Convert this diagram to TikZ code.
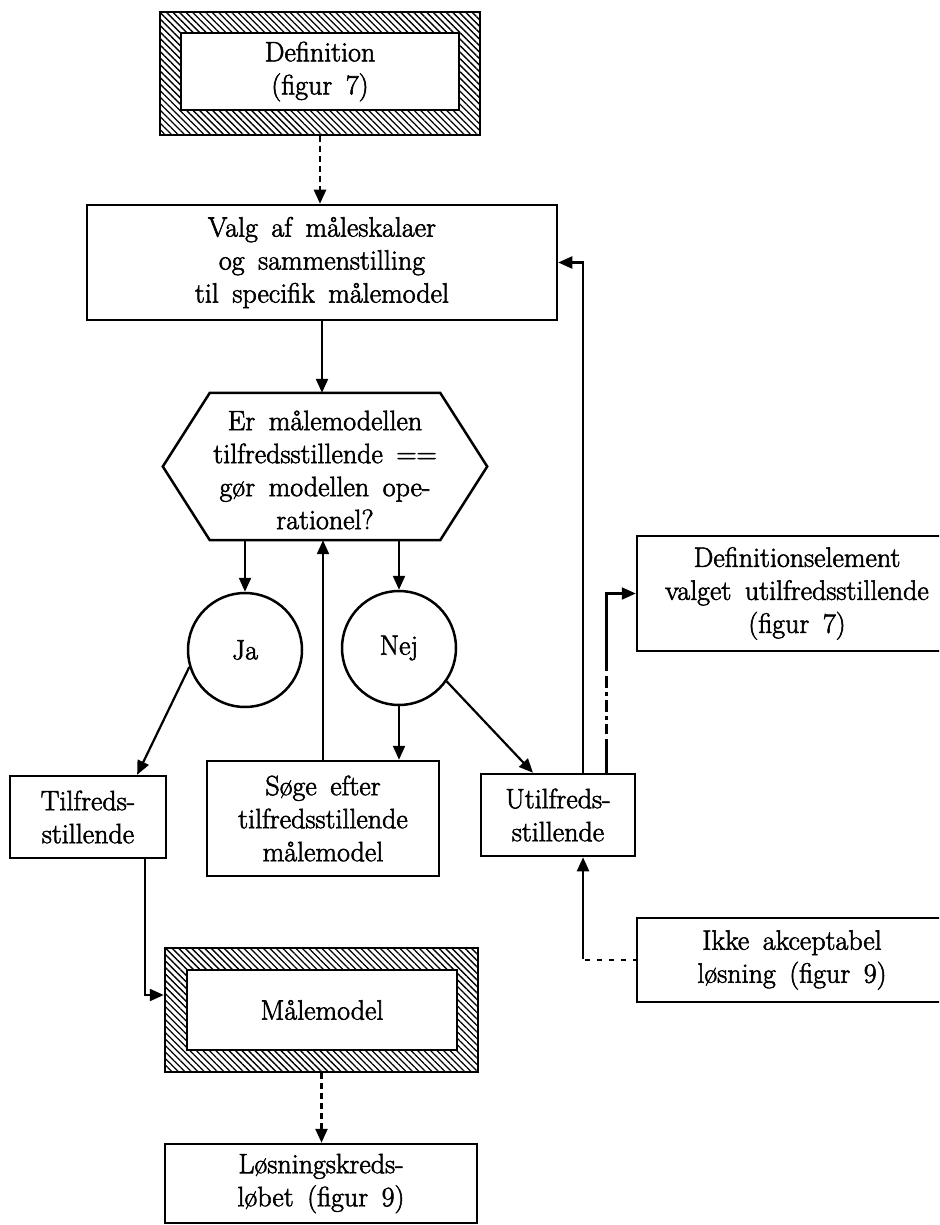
\documentclass[tikz,border=0pt]{standalone}
\usepackage{fontspec}
\setmainfont{Latin Modern Roman}[WordSpace=1.6, FakeBold=2]
\usetikzlibrary{arrows.meta,patterns.meta,calc}
\begin{document}
\begin{tikzpicture}[x=1pt,y=-1pt,
  every node/.style={font=\fontsize{28}{33}\selectfont, align=center, inner sep=0pt},
  box/.style={draw, line width=2.5pt, fill=white},
  hatch/.style={draw, line width=2.5pt, pattern={Lines[angle=-45,distance=4.6pt,line width=1.3pt]}},
  ring/.style={draw, circle, line width=2.5pt, minimum size=114pt},
  arr/.style={line width=2.2pt, -{Triangle[length=14pt,width=12pt]}},
  dotarr/.style={arr, line width=2.5pt, dash pattern=on 6pt off 4pt},
  dashdot/.style={arr, dash pattern=on 34pt off 5pt on 10pt off 4pt on 4pt off 4pt on 12pt off 4pt on 4pt off 4pt on 12pt off 5pt on 120pt off 1pt},
  dotsolid/.style={arr, dash pattern=on 3pt off 7pt on 5pt off 7pt on 5pt off 7pt on 5pt off 7pt on 5pt off 3pt on 200pt off 1pt}]
\useasboundingbox (0,0) rectangle (939,1225);
\clip (0,0) rectangle (939,1225);

% start: definition (hatched frame)
\node[hatch, minimum width=320pt, minimum height=123pt] (def) at (320,73.5) {};
\node[box, minimum width=278pt, minimum height=77pt] (defin) at (320,71.5) {Definition\\(figur 7)};

% choice of scales
\node[box, minimum width=470pt, minimum height=115pt] (valg) at (322,262.5)
  {Valg af måleskalaer\\og sammenstilling\\til specifik målemodel};

% decision hexagon
\node[minimum width=324pt, minimum height=147pt] (hex) at (325,466.5) {};
\draw[line width=2.5pt] (hex.west) -- ($(hex.north west)+(47,0)$) -- ($(hex.north east)+(-47,0)$)
  -- (hex.east) -- ($(hex.south east)+(-47,0)$) -- ($(hex.south west)+(47,0)$) -- cycle;
\node at (325,470) {Er målemodellen\\tilfredsstillende ==\\gør modellen ope-\\rationel?};

% answers
\node[ring] (ja) at (245,650) {Ja};
\node[ring] (nej) at (399,648) {Nej};

% outcome boxes
\node[box, minimum width=156pt, minimum height=82pt] (tilf) at (88,817) {Tilfreds-\\stillende};
\node[box, minimum width=232pt, minimum height=115pt] (soge) at (323,818.5)
  {Søge efter\\tilfredsstillende\\målemodel};
\node[box, minimum width=154pt, minimum height=82pt] (utilf) at (558,815) {Utilfreds-\\stillende};
\node[box, minimum width=320pt, minimum height=115pt] (defel) at (797,593.5)
  {Definitionselement\\valget utilfredsstillende\\(figur 7)};
\node[box, minimum width=310pt, minimum height=84pt] (ikke) at (792,960)
  {Ikke akceptabel\\løsning (figur 9)};

% result: measurement model (hatched frame)
\node[hatch, minimum width=313pt, minimum height=124pt] (maal) at (321.5,1010) {};
\node[box, minimum width=270pt, minimum height=80pt] (maalin) at (322,1010) {Målemodel};

\node[box, minimum width=312pt, minimum height=79pt] (los) at (321,1183.5)
  {Løsningskreds-\\løbet (figur 9)};

% connectors
\draw[dotarr] (def.south) -- (def.south |- valg.north);
\draw[arr] (valg.south) -- (valg.south |- hex.north);
\draw[arr] (ja.north |- hex.south) -- (ja.north);
\draw[arr] (nej.north |- hex.south) -- (nej.north);
\draw[arr] (soge.north) -- (soge.north |- hex.south);
\draw[arr] (ja.197) -- ($(tilf.north west)!0.81!(tilf.north east)$);
\draw[arr] (nej.south) -- (nej.south |- soge.north);
\draw[arr] (nej.-35) -- ($(utilf.north west)!0.34!(utilf.north east)$);
\draw[arr] ($(utilf.north west)!0.66!(utilf.north east)$) |- (valg.east);
\draw[dashdot] ($(utilf.north west)!0.81!(utilf.north east)$) |- (defel.west);
\draw[dotsolid] (ikke.west) -| ($(utilf.south west)!0.66!(utilf.south east)$);
\draw[arr] ($(tilf.south west)!0.86!(tilf.south east)$) |- ($(maal.west)+(0,-15)$);
\draw[dotarr] (maal.south) -- (maal.south |- los.north);
\end{tikzpicture}
\end{document}
